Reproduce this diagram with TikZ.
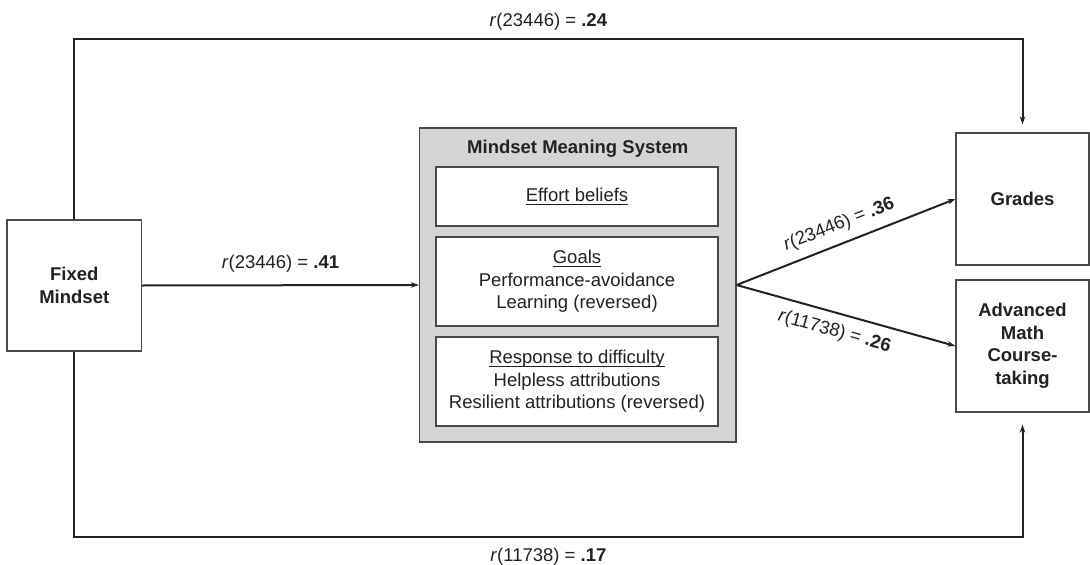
\documentclass[tikz,border=0pt]{standalone}
\usepackage{fontspec}
\setmainfont{Liberation Sans}
\usetikzlibrary{arrows.meta}

\definecolor{ink}{HTML}{222222}
\definecolor{frame}{HTML}{4A4A4A}
\definecolor{panel}{HTML}{D4D5D7}
\newcommand{\txtsize}{\fontsize{18.5}{22.5}\selectfont}
% underlined heading: rule drawn below the baseline, as wide as the text
\newcommand{\ulhead}[1]{\setbox0\hbox{#1}\rlap{\rule[-3.4pt]{\wd0}{1.1pt}}\box0}

\begin{document}
\begin{tikzpicture}[x=1pt,y=-1pt,
  every node/.style={font=\txtsize, text=ink},
  box/.style={draw=frame, line width=1.3pt, fill=white, align=center, inner sep=0pt},
  boldbox/.style={box, font=\txtsize\bfseries},
  panelbox/.style={draw=frame, line width=1.3pt, fill=panel, inner sep=0pt},
  conn/.style={draw=ink, line width=2pt, -{Stealth[length=8pt,width=5.5pt]}},
  lab/.style={inner sep=2pt}
]
\useasboundingbox (0,0) rectangle (1090,565);

% outcome and predictor boxes
\node[boldbox, minimum width=134.5pt, minimum height=131pt] (fixed) at (74.25,285.5) {Fixed\\Mindset};
\node[boldbox, minimum width=133pt, minimum height=132pt] (grades) at (1022.5,199) {Grades};
\node[boldbox, minimum width=133pt, minimum height=132pt] (adv) at (1022.5,346) {Advanced\\Math\\Course-\\taking};

% meaning-system panel with its three components
\node[panelbox, minimum width=316.5pt, minimum height=314pt] (mms) at (577.75,285) {};
\node[font=\txtsize\bfseries] (mmstitle) at (577.75,149) {Mindset Meaning System};
\node[box, minimum width=282pt, minimum height=59pt] (effort) at (577,196.5) {\ulhead{Effort beliefs}};
\node[box, minimum width=282pt, minimum height=89pt] (goals) at (577,281.5) {\ulhead{Goals}\\Performance-avoidance\\Learning (reversed)};
\node[box, minimum width=282pt, minimum height=89pt] (resp) at (577,381.5) {\ulhead{Response to difficulty}\\Helpless attributions\\Resilient attributions (reversed)};

% corners of the outer routes
\coordinate (tr) at (1022.5,38.7);
\coordinate (br) at (1022.5,537);

% connectors
\draw[conn] (fixed.east) -- node[lab, midway, above=10pt] {\textit{r}(23446) = \textbf{.41}} (mms.west);
\draw[conn] (mms.east) -- node[lab, midway, sloped, above=7pt] {\textit{r}(23446) = \textbf{.36}} (grades.west);
\draw[conn] (mms.east) -- node[lab, pos=0.47, sloped, below=7pt] {\textit{r}(11738) = \textbf{.26}} (adv.west);
\draw[conn, shorten >=8pt] (fixed.north) |- node[lab, pos=0.75, above=5pt] {\textit{r}(23446) = \textbf{.24}} (tr) -- (grades.north);
\draw[conn, shorten >=12pt] (fixed.south) |- node[lab, pos=0.75, below=8pt] {\textit{r}(11738) = \textbf{.17}} (br) -- (adv.south);
\end{tikzpicture}
\end{document}
